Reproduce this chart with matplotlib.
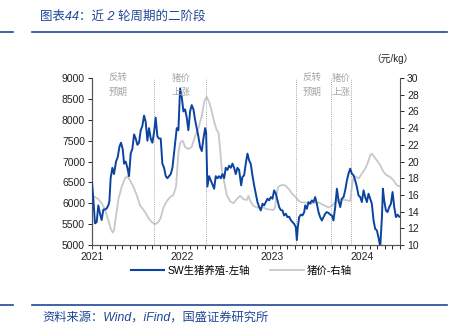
import numpy as np
import matplotlib
matplotlib.use("Agg")
import matplotlib.pyplot as plt
from matplotlib.ticker import MultipleLocator, FixedLocator

plt.rcParams['font.family'] = ['Liberation Sans', 'Noto Sans CJK SC', 'DejaVu Sans']

# SW pig farming index (left axis), time in decimal years
sw_t = [2021.000, 2021.015, 2021.033, 2021.052, 2021.070, 2021.089, 2021.107, 2021.126, 2021.144, 2021.163,
        2021.181, 2021.193, 2021.207, 2021.226, 2021.244, 2021.267, 2021.285, 2021.304, 2021.322, 2021.341,
        2021.356, 2021.374, 2021.393, 2021.411, 2021.430, 2021.448, 2021.467, 2021.485, 2021.504, 2021.522,
        2021.541, 2021.559, 2021.578, 2021.596, 2021.615, 2021.633, 2021.652, 2021.670, 2021.689, 2021.707,
        2021.726, 2021.744, 2021.763, 2021.781, 2021.800, 2021.819, 2021.837, 2021.856, 2021.874, 2021.893,
        2021.911, 2021.930, 2021.941, 2021.959, 2021.978, 2021.996, 2022.015, 2022.033, 2022.052, 2022.070,
        2022.089, 2022.107, 2022.126, 2022.144, 2022.163, 2022.181, 2022.200, 2022.219, 2022.237, 2022.256,
        2022.267, 2022.281, 2022.300, 2022.319, 2022.337, 2022.356, 2022.374, 2022.393, 2022.411, 2022.430,
        2022.448, 2022.467, 2022.485, 2022.504, 2022.522, 2022.541, 2022.559, 2022.578, 2022.596, 2022.615,
        2022.633, 2022.656, 2022.670, 2022.689, 2022.707, 2022.726, 2022.744, 2022.763, 2022.781, 2022.800,
        2022.819, 2022.837, 2022.856, 2022.874, 2022.893, 2022.911, 2022.930, 2022.948, 2022.967, 2022.985,
        2023.004, 2023.022, 2023.041, 2023.059, 2023.078, 2023.096, 2023.115, 2023.133, 2023.152, 2023.170,
        2023.189, 2023.207, 2023.226, 2023.244, 2023.263, 2023.274, 2023.285, 2023.300, 2023.319, 2023.337,
        2023.356, 2023.367, 2023.385, 2023.404, 2023.422, 2023.441, 2023.459, 2023.478, 2023.496, 2023.515,
        2023.533, 2023.552, 2023.570, 2023.589, 2023.607, 2023.626, 2023.644, 2023.663, 2023.681, 2023.700,
        2023.719, 2023.737, 2023.756, 2023.774, 2023.793, 2023.811, 2023.830, 2023.848, 2023.867, 2023.885,
        2023.904, 2023.922, 2023.941, 2023.959, 2023.978, 2023.996, 2024.015, 2024.033, 2024.052, 2024.070,
        2024.089, 2024.107, 2024.126, 2024.144, 2024.163, 2024.181, 2024.200, 2024.219, 2024.230, 2024.244,
        2024.263, 2024.281, 2024.300, 2024.319, 2024.337, 2024.356, 2024.374, 2024.393, 2024.411]
sw_v = [6500, 6100, 5520, 5550, 5950, 5750, 5600, 5850, 5850, 5880,
        5950, 6050, 6600, 6850, 6700, 7000, 7100, 7350, 7450, 7300,
        6950, 7000, 6850, 6650, 7200, 7300, 7650, 7550, 7400, 7450,
        7750, 7850, 8100, 7950, 7500, 7800, 7550, 7450, 7700, 8050,
        7600, 7550, 7550, 6950, 6850, 6650, 6600, 6650, 6700, 6850,
        7200, 7550, 7800, 7750, 8750, 8550, 8200, 8250, 8050, 7750,
        8200, 8350, 8250, 8000, 7800, 7600, 7350, 7250, 7550, 7800,
        7700, 6400, 6650, 6550, 6450, 6350, 6650, 6600, 6650, 6600,
        6700, 6600, 6850, 6800, 6900, 6850, 6950, 6850, 6700, 6850,
        6800, 6430, 6630, 6670, 6950, 7190, 7030, 6940, 6670, 6430,
        6230, 6030, 5910, 5830, 5990, 5950, 6030, 6110, 6070, 6150,
        6110, 6310, 6230, 6070, 5910, 5840, 5830, 5710, 5750, 5670,
        5680, 5600, 5550, 5510, 5430, 5120, 5430, 5670, 5730, 5710,
        5790, 5950, 5870, 6030, 5990, 6070, 6030, 6150, 5990, 5790,
        5670, 5590, 5670, 5750, 5790, 5770, 5730, 5710, 5590, 5910,
        6350, 6070, 5910, 6110, 6150, 6310, 6550, 6710, 6830, 6710,
        6670, 6550, 6390, 6190, 6150, 6030, 6310, 6150, 6030, 6230,
        6110, 5990, 5590, 5390, 5350, 5180, 4960, 5670, 6350, 6070,
        5830, 5790, 5910, 5990, 6270, 5910, 5670, 5730, 5680]

# pig price (right axis, yuan/kg)
price_t = [2021.000, 2021.033, 2021.070, 2021.107, 2021.144, 2021.181, 2021.207, 2021.230, 2021.244, 2021.267,
           2021.293, 2021.330, 2021.367, 2021.393, 2021.422, 2021.459, 2021.496, 2021.533, 2021.570, 2021.600,
           2021.626, 2021.663, 2021.700, 2021.737, 2021.763, 2021.793, 2021.830, 2021.867, 2021.904, 2021.933,
           2021.959, 2021.978, 2022.007, 2022.033, 2022.070, 2022.107, 2022.144, 2022.181, 2022.219, 2022.248,
           2022.274, 2022.304, 2022.330, 2022.356, 2022.385, 2022.404, 2022.422, 2022.441, 2022.459, 2022.496,
           2022.533, 2022.570, 2022.607, 2022.644, 2022.681, 2022.719, 2022.737, 2022.756, 2022.793, 2022.830,
           2022.867, 2022.904, 2022.941, 2022.978, 2023.015, 2023.033, 2023.052, 2023.070, 2023.107, 2023.144,
           2023.181, 2023.219, 2023.256, 2023.293, 2023.330, 2023.367, 2023.404, 2023.441, 2023.478, 2023.515,
           2023.552, 2023.589, 2023.626, 2023.663, 2023.700, 2023.737, 2023.774, 2023.811, 2023.848, 2023.867,
           2023.885, 2023.904, 2023.933, 2023.959, 2023.996, 2024.033, 2024.059, 2024.089, 2024.107, 2024.133,
           2024.163, 2024.200, 2024.237, 2024.274, 2024.311, 2024.348, 2024.385, 2024.411]
price_v = [15.9, 15.75, 15.5, 15.0, 14.25, 13.0, 12.0, 11.5, 11.75, 13.5,
           15.5, 17.0, 18.0, 18.25, 17.75, 17.0, 16.0, 14.75, 14.25, 13.75,
           13.25, 12.75, 12.5, 12.75, 13.25, 14.5, 15.25, 15.75, 16.0, 17.0,
           21.0, 22.25, 22.5, 21.75, 21.5, 21.75, 23.0, 24.0, 25.5, 27.25,
           27.75, 27.0, 26.0, 24.75, 23.75, 23.5, 21.5, 19.0, 18.0, 16.0,
           15.25, 15.0, 15.5, 15.9, 15.5, 15.4, 15.9, 15.3, 14.7, 14.5,
           14.5, 14.5, 14.3, 14.25, 14.2, 14.5, 16.3, 17.0, 17.2, 17.15,
           16.75, 16.2, 15.8, 15.3, 15.1, 15.1, 15.0, 15.0, 15.1, 15.1,
           14.9, 14.7, 14.5, 14.7, 15.1, 15.4, 15.5, 15.4, 15.3, 15.3,
           16.9, 18.15, 18.2, 17.95, 18.55, 19.15, 19.75, 20.75, 20.95, 20.55,
           20.15, 19.55, 18.75, 18.35, 18.15, 17.75, 17.15, 17.05]

phase_lines = [2021.689, 2022.267, 2023.262, 2023.648, 2023.878]
notes = ['反转\n预期', '猪价\n上涨', '反转\n预期', '猪价\n上涨']
note_x = [2021.29, 2021.99, 2023.44, 2023.77]
years = [2021, 2022, 2023, 2024]

blue = '#0b44a0'
grey = '#c8c8c8'
navy = '#1f4796'

fig = plt.figure(figsize=(4.51, 3.29), dpi=100)
ax = fig.add_axes([0.204, 0.255, 0.683, 0.508])
ax2 = ax.twinx()

ax2.plot(price_t, price_v, color=grey, lw=1.3, zorder=1)
ax.plot(sw_t, sw_v, color=blue, lw=1.4, zorder=3)
ax.set_zorder(ax2.get_zorder() + 1)
ax.patch.set_visible(False)

for x in phase_lines:
    ax.axvline(x, color='#a8a8a8', lw=0.7, ls=(0, (1, 1.2)), zorder=2)
for x, s in zip(note_x, notes):
    ax.text(x, 9100, s, ha='center', va='top', fontsize=6.8, color='#a6a6a6',
            family=['Noto Sans CJK SC'], linespacing=1.65)

ax.set_xlim(2021, 2024.42)
ax.set_ylim(5000, 9000)
ax2.set_ylim(10, 30)
ax.set_yticks(np.arange(5000, 9001, 500))
ax2.set_yticks(np.arange(10, 31, 2))
ax.xaxis.set_major_locator(FixedLocator(years))
ax.set_xticklabels([str(y) for y in years])
ax.xaxis.set_minor_locator(MultipleLocator(1 / 12))

for a in (ax, ax2):
    a.spines['top'].set_visible(False)
    for s in a.spines.values():
        s.set_color('#555555')
        s.set_linewidth(0.8)
    a.tick_params(labelsize=7.5, colors='#222222', length=3, width=0.7, pad=2)
ax.tick_params(axis='x', which='both', direction='out', length=3, width=0.6, pad=2)
ax.tick_params(axis='y', which='both', direction='out')
ax2.tick_params(axis='y', direction='out')
ax.spines['right'].set_visible(False)

fig.text(0.87, 0.805, '（元/kg）', fontsize=7, ha='center', va='bottom', color='#222222')

h1, = ax.plot([], [], color=blue, lw=1.5, label='SW生猪养殖-左轴')
h2, = ax.plot([], [], color=grey, lw=1.3, label='猪价-右轴')
fig.legend(handles=[h1, h2], loc='center', bbox_to_anchor=(0.535, 0.178), ncol=2, frameon=False,
           fontsize=7.5, handlelength=3.2, columnspacing=2.0, handletextpad=0.3,
           borderpad=0.1)

# header / footer
fig.text(0.089, 0.948, '图表44：近 2 轮周期的二阶段', fontsize=9, color=navy, style='italic',
         ha='left', va='center')
fig.text(0.093, 0.034, '资料来源：Wind，iFind，国盛证券研究所', fontsize=8.8, color=navy,
         style='italic', ha='left', va='center')
for yy in (0.903, 0.073):
    fig.add_artist(plt.Line2D([0, 0.029], [yy, yy], color=navy, lw=1.2))
    fig.add_artist(plt.Line2D([0.071, 0.992], [yy, yy], color=navy, lw=1.2))

fig.savefig('out.png', dpi=100)
